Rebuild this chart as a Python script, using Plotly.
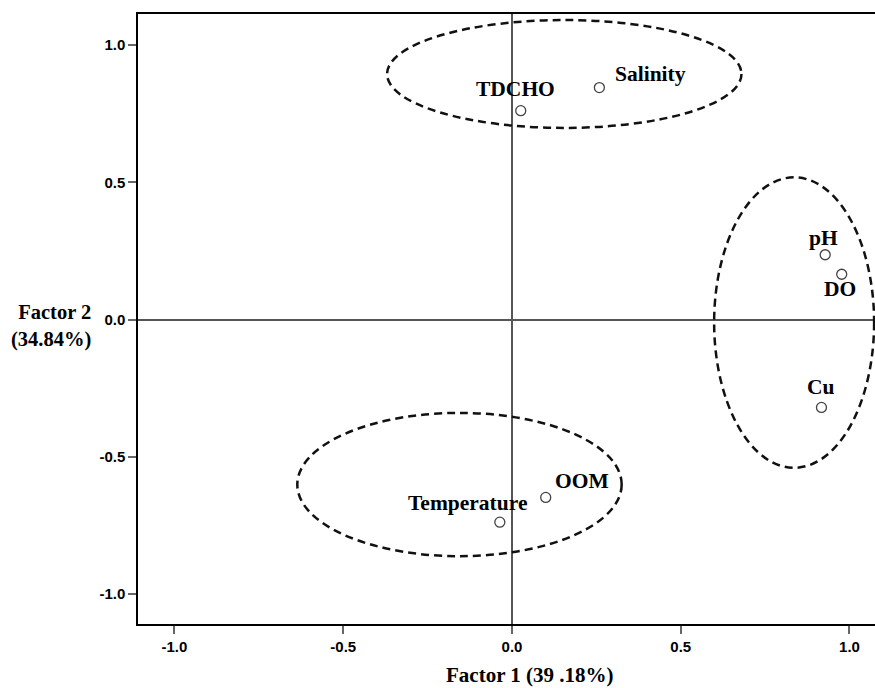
import plotly.graph_objects as go

# Variable loadings (Factor 1, Factor 2)
variables = ["TDCHO", "Salinity", "pH", "DO", "Cu", "Temperature", "OOM"]
factor1 = [0.026, 0.259, 0.928, 0.977, 0.917, -0.036, 0.100]
factor2 = [0.761, 0.845, 0.236, 0.165, -0.320, -0.738, -0.648]

# Group ellipses (x0, x1, y0, y1 in loading units)
group_x0 = [-0.370, 0.599, -0.636]
group_x1 = [0.680, 1.073, 0.325]
group_y0 = [0.698, -0.540, -0.862]
group_y1 = [1.091, 0.518, -0.340]

x_ticks = [-1.0, -0.5, 0.0, 0.5, 1.0]
y_ticks = [-1.0, -0.5, 0.0, 0.5, 1.0]
x_title = "Factor 1 (39 .18%)"
y_title = "Factor 2<br>(34.84%)"

# label pixel offsets (xshift, yshift, xanchor)
label_offsets = {
    "TDCHO": (-5, 22, "center"),
    "Salinity": (14, 14, "left"),
    "pH": (-2, 17, "center"),
    "DO": (-2, -15, "center"),
    "Cu": (0, 20, "center"),
    "Temperature": (29, 19, "right"),
    "OOM": (7, 16, "left"),
}

fig = go.Figure()

fig.add_trace(go.Scatter(
    x=factor1, y=factor2, mode="markers",
    marker=dict(symbol="circle-open", size=10, color="#444444",
                line=dict(width=1.3, color="#444444")),
    hoverinfo="text", text=variables, showlegend=False,
))

for x0, x1, y0, y1 in zip(group_x0, group_x1, group_y0, group_y1):
    fig.add_shape(type="circle", xref="x", yref="y", x0=x0, x1=x1, y0=y0, y1=y1,
                  line=dict(color="#111111", width=2.5, dash="8px,5px"))

serif = "Liberation Serif, Times New Roman, serif"
for name, xv, yv in zip(variables, factor1, factor2):
    dx, dy, anchor = label_offsets[name]
    fig.add_annotation(x=xv, y=yv, xref="x", yref="y", text=name, showarrow=False,
                       xshift=dx, yshift=dy, xanchor=anchor, yanchor="middle",
                       font=dict(family=serif, size=21.5, color="#000000", weight="bold"))

# axis titles
fig.add_annotation(xref="paper", yref="y", x=0, y=0, xshift=-45, yshift=-6,
                   text=y_title, showarrow=False, xanchor="right", yanchor="middle",
                   align="right",
                   font=dict(family=serif, size=20.5, color="#000000", weight="bold"))
fig.add_annotation(xref="x", yref="paper", x=0.053, y=0, yshift=-51,
                   text=x_title, showarrow=False, xanchor="center", yanchor="middle",
                   font=dict(family=serif, size=21, color="#000000", weight="bold"))

tickfont = dict(family="Liberation Sans, Arial, sans-serif", size=15, color="#000000", weight="bold")

fig.update_xaxes(
    range=[-1.108, 1.0756], tickvals=x_ticks, ticktext=[f"{v:.1f}" for v in x_ticks],
    ticks="outside", ticklen=8, tickwidth=1.5, tickcolor="#666666",
    showline=True, linecolor="#000000", linewidth=1.5, mirror=True,
    showgrid=False, zeroline=True, zerolinecolor="#555555", zerolinewidth=1.5,
    tickfont=tickfont, automargin=False,
)
fig.update_yaxes(
    range=[-1.109, 1.113], tickvals=y_ticks, ticktext=[f"{v:.1f}" for v in y_ticks],
    ticks="outside", ticklen=8, tickwidth=1.5, tickcolor="#666666",
    showline=True, linecolor="#000000", linewidth=1.5, mirror=False,
    showgrid=False, zeroline=True, zerolinecolor="#555555", zerolinewidth=1.5,
    tickfont=tickfont, automargin=False,
)

fig.update_layout(
    width=875, height=688,
    margin=dict(l=138, r=0, t=14, b=64, autoexpand=False),
    plot_bgcolor="#ffffff", paper_bgcolor="#ffffff",
    showlegend=False,
)

fig.write_html("out.html", config={"displayModeBar": False},
               post_script="document.body.style.margin='0';")
